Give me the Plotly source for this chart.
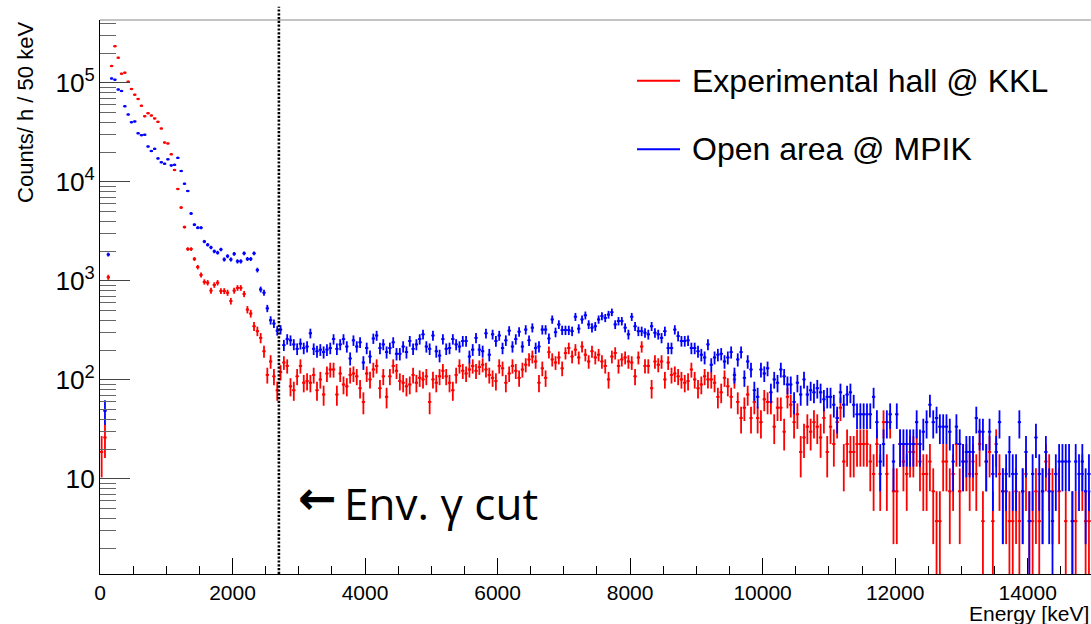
import numpy as np
import plotly.graph_objects as go

# Gamma/neutron background spectra, 50 keV bins from 0 to 15000 keV.
BIN_WIDTH_KEV = 50
N_BINS = 300
LIVE_TIME_H = 16 / 60  # measurement time per spectrum, hours

# Raw counts per 50 keV bin
kkl_counts = [
    5, 7, 291, 39500, 62700, 48000, 33100, 33900, 27500, 23200,
    20300, 18400, 15700, 12300, 13200, 12500, 11700, 10800, 9250, 6670,
    6530, 5070, 3520, 2270, 1470, 933, 560, 560, 445, 368,
    307, 261, 256, 213, 243, 256, 211, 211, 203, 167,
    213, 227, 227, 197, 137, 125, 93, 83, 71, 52,
    30, 41, 29, 21, 32, 40, 37, 23, 21, 29,
    37, 25, 26, 25, 30, 21, 27, 19, 31, 34,
    34, 19, 31, 24, 23, 30, 31, 29, 22, 16,
    31, 27, 34, 37, 22, 29, 18, 29, 37, 33,
    26, 25, 23, 24, 30, 25, 28, 27, 29, 16,
    27, 25, 29, 33, 29, 25, 21, 30, 37, 33,
    31, 34, 37, 33, 36, 38, 34, 30, 28, 26,
    37, 35, 25, 31, 37, 33, 28, 34, 38, 43,
    46, 41, 25, 35, 28, 51, 43, 40, 45, 35,
    50, 56, 46, 54, 45, 58, 48, 41, 52, 45,
    48, 41, 37, 27, 46, 50, 37, 43, 45, 41,
    40, 29, 45, 58, 37, 37, 22, 41, 38, 41,
    27, 40, 30, 31, 29, 27, 25, 26, 34, 27,
    22, 24, 29, 27, 27, 25, 18, 20, 28, 23,
    18, 27, 16, 11, 14, 19, 11, 16, 11, 10,
    17, 16, 16, 9, 14, 14, 8, 18, 15, 10,
    12, 5, 7, 9, 8, 10, 9, 7, 11, 5,
    9, 6, 10, 14, 4, 6, 5, 5, 6, 6,
    6, 6, 4, 3, 6, 3, 10, 3, 10, 2,
    2, 6, 4, 3, 5, 5, 6, 4, 3, 3,
    4, 2, 1, 1, 4, 4, 2, 3, 6, 2,
    4, 4, 3, 4, 3, 6, 1, 4, 5, 1,
    6, 3, 2, 2, 1, 1, 2, 1, 2, 3,
    1, 1, 2, 1, 2, 4, 3, 2, 0, 2,
    0, 1, 0, 1, 1, 0, 3, 1, 1, 1,
]

mpik_counts = [
    0, 13, 493, 29600, 28800, 22900, 22100, 15500, 12800, 10700,
    10900, 8270, 7920, 8000, 6080, 5470, 5760, 4610, 4210, 4080,
    4510, 3920, 3970, 4670, 3440, 2560, 2160, 1280, 987, 920,
    920, 667, 619, 581, 531, 515, 555, 440, 475, 440,
    501, 421, 421, 507, 445, 445, 507, 344, 219, 203,
    141, 107, 99, 84, 86, 60, 69, 67, 61, 55,
    62, 56, 58, 79, 55, 52, 54, 51, 54, 56,
    69, 55, 61, 69, 58, 44, 67, 58, 64, 40,
    56, 46, 70, 75, 56, 61, 51, 56, 64, 49,
    49, 58, 51, 66, 55, 61, 69, 77, 58, 55,
    75, 52, 47, 69, 55, 56, 69, 61, 58, 66,
    66, 46, 54, 71, 54, 52, 79, 48, 77, 66,
    75, 56, 67, 84, 58, 69, 82, 58, 86, 67,
    90, 56, 58, 86, 86, 70, 109, 81, 97, 85,
    85, 85, 83, 116, 88, 109, 120, 97, 90, 93,
    109, 118, 113, 122, 129, 97, 105, 105, 90, 77,
    116, 93, 83, 83, 80, 77, 93, 80, 77, 71,
    83, 56, 56, 86, 74, 66, 66, 67, 56, 56,
    52, 48, 45, 61, 38, 45, 48, 49, 41, 45,
    51, 30, 43, 51, 28, 41, 34, 21, 18, 34,
    31, 35, 20, 27, 25, 34, 29, 24, 24, 16,
    25, 19, 27, 19, 21, 20, 22, 20, 17, 18,
    18, 15, 11, 20, 15, 19, 20, 15, 12, 12,
    12, 12, 12, 18, 10, 4, 6, 10, 12, 4,
    12, 6, 6, 6, 6, 6, 10, 6, 8, 10,
    15, 10, 11, 9, 9, 9, 8, 4, 9, 6,
    4, 5, 5, 5, 11, 8, 8, 4, 8, 3,
    5, 10, 2, 3, 5, 3, 3, 10, 2, 5,
    1, 3, 7, 3, 2, 5, 2, 1, 3, 4,
    4, 4, 4, 1, 4, 3, 4, 2, 3, 2,
]

series_names = ["Experimental hall @ KKL", "Open area @ MPIK"]
series_colors = ["#ff0000", "#0000ff"]
GAMMA_CUT_KEV = 2700

bin_centers = BIN_WIDTH_KEV * np.arange(N_BINS) + BIN_WIDTH_KEV / 2


def rate_with_errors(counts):
    c = np.asarray(counts, dtype=float)
    rate = c / LIVE_TIME_H
    err = np.sqrt(c) / LIVE_TIME_H
    rate[c == 0] = np.nan
    err[c == 0] = np.nan
    return rate, err


FONT = "Liberation Sans, Arial, Helvetica, sans-serif"

fig = go.Figure()
for counts, name, color in zip([kkl_counts, mpik_counts], series_names, series_colors):
    rate, err = rate_with_errors(counts)
    fig.add_trace(go.Scatter(
        x=bin_centers, y=rate, name=name, mode="markers",
        marker=dict(color=color, size=2.5, line=dict(width=0)),
        error_y=dict(type="data", array=err, visible=True, color=color,
                     thickness=1.8, width=0),
        error_x=dict(type="constant", value=BIN_WIDTH_KEV / 2, visible=True,
                     color=color, thickness=1.8, width=0),
        showlegend=False,
    ))

x_end = 14956
fig.update_layout(
    width=1091, height=624,
    margin=dict(l=100, r=0, t=20, b=50),
    paper_bgcolor="white", plot_bgcolor="white",
    font=dict(family=FONT, color="black"),
    xaxis=dict(
        range=[0, x_end], showgrid=False, zeroline=False,
        showline=True, linecolor="black", linewidth=1,
        ticks="inside", ticklen=16, tickwidth=1, tickcolor="black",
        tick0=0, dtick=2000, tickformat="d", tickfont=dict(size=21, family=FONT),
        minor=dict(ticks="inside", dtick=500, ticklen=8, tickcolor="black",
                   tickwidth=1, showgrid=False),
    ),
    yaxis=dict(
        type="log", range=[0.04, 5.636], showgrid=False, zeroline=False,
        showline=True, linecolor="black", linewidth=1,
        ticks="inside", ticklen=30, tickwidth=1, tickcolor="#444",
        dtick=1, exponentformat="power", tickfont=dict(size=21, family=FONT),
        minor=dict(ticks="inside", dtick="D1", ticklen=16, tickcolor="#666",
                   tickwidth=1, showgrid=False),
    ),
)

shapes = [
    # frame top edge
    dict(type="line", xref="paper", yref="paper", x0=0, x1=1, y0=1, y1=1,
         line=dict(color="#888888", width=1)),
    # environmental gamma cut
    dict(type="line", xref="x", yref="paper", x0=GAMMA_CUT_KEV, x1=GAMMA_CUT_KEV,
         y0=0, y1=1.024, line=dict(color="black", width=2.6, dash="2.2px,1.6px")),
]

# legend entries drawn by hand
legend_y = [0.8904, 0.7666]
for y, color in zip(legend_y, series_colors):
    shapes.append(dict(type="line", xref="paper", yref="paper",
                       x0=0.5419, x1=0.5853, y0=y, y1=y,
                       line=dict(color=color, width=2)))
fig.update_layout(shapes=shapes)

annotations = []
for y, name in zip(legend_y, series_names):
    annotations.append(dict(xref="paper", yref="paper", x=0.5950, y=y,
                            xanchor="left", yanchor="middle", text=name,
                            showarrow=False, font=dict(size=32, family=FONT)))
annotations += [
    dict(xref="paper", yref="paper", x=-0.0747, y=0.834, text="Counts/ h / 50 keV",
         textangle=-90, showarrow=False, xanchor="center", yanchor="middle",
         font=dict(size=22, family=FONT)),
    dict(xref="paper", yref="paper", x=1.0, y=-0.072, text="Energy [keV]",
         showarrow=False, xanchor="right", yanchor="middle",
         font=dict(size=21, family=FONT)),
    # cut marker label: arrow glyph and text
    dict(xref="paper", yref="paper", x=0.1975, y=0.137, text="<b>\u2190</b>",
         showarrow=False, xanchor="left", yanchor="middle",
         font=dict(size=46, family="DejaVu Sans, sans-serif")),
    dict(xref="paper", yref="paper", x=0.2442, y=0.128, text="Env. \u03b3 cut",
         showarrow=False, xanchor="left", yanchor="middle",
         font=dict(size=44, family="Open Sans, Noto Sans, sans-serif")),
]
fig.update_layout(annotations=annotations)

fig.write_html("out.html")
